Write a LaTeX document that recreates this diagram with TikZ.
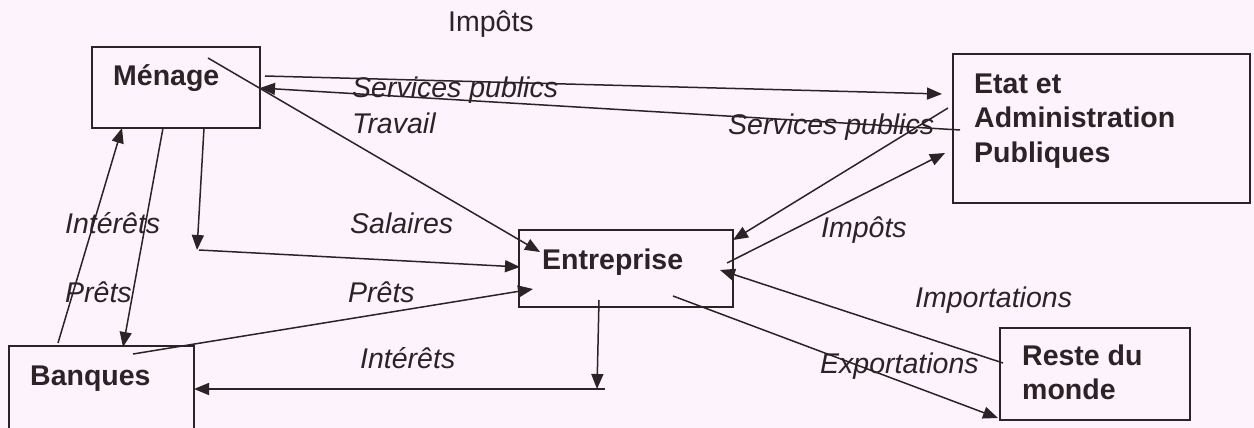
\documentclass[tikz,border=0pt]{standalone}
\usepackage{fontspec}
\setmainfont{Liberation Sans}
\usetikzlibrary{arrows.meta}
\definecolor{bg}{RGB}{253,243,252}
\definecolor{ink}{RGB}{45,34,38}
\begin{document}
\begin{tikzpicture}[x=1pt,y=-1pt,
  box/.style={draw=ink,line width=1.8pt,rectangle,inner sep=0pt},
  btxt/.style={anchor=base west,inner sep=0pt,text=ink,font=\fontsize{28.5}{34.5}\selectfont\bfseries},
  itxt/.style={anchor=base west,inner sep=0pt,text=ink,font=\fontsize{28.5}{34.5}\selectfont\itshape},
  rtxt/.style={anchor=base west,inner sep=0pt,text=ink,font=\fontsize{28.5}{34.5}\selectfont},
  flow/.style={draw=ink,line width=1.5pt,-{Triangle[length=15pt,width=12pt]}},
  plain/.style={draw=ink,line width=1.5pt}]
\fill[bg] (0,0) rectangle (1254,428);
\useasboundingbox (0,0) rectangle (1254,428);
% boxes
\node[box,minimum width=168pt,minimum height=81pt] (menage) at (176,87.5) {};
\node[box,minimum width=297pt,minimum height=149pt] (etat) at (1101.5,128.5) {};
\node[box,minimum width=214pt,minimum height=77pt] (entreprise) at (626,268.5) {};
\node[box,minimum width=185pt,minimum height=84pt] (banques) at (101.5,388) {};
\node[box,minimum width=190pt,minimum height=92pt] (reste) at (1095,374) {};
% box texts
\node[btxt] (tmenage) at (113,86) {Ménage};
\node[btxt] (tetat1) at (974,93) {Etat et};
\node[btxt] (tetat2) at (974,128) {Administration};
\node[btxt] (tetat3) at (974,162) {Publiques};
\node[btxt] (tentr) at (542,269) {Entreprise};
\node[btxt] (tbanq) at (30,385) {Banques};
\node[btxt] (treste1) at (1022,365) {Reste du};
\node[btxt] (treste2) at (1022,399) {monde};
% labels
\node[rtxt] (limpots) at (448,32) {Impôts};
\node[itxt] (lsp1) at (352,97) {Services publics};
\node[itxt] (ltrav) at (352,133) {Travail};
\node[itxt] (lsp2) at (728,135) {Services publics};
\node[itxt] (lint1) at (65,233) {Intérêts};
\node[itxt] (lsal) at (350,233) {Salaires};
\node[itxt] (lpr1) at (65,302) {Prêts};
\node[itxt] (lpr2) at (348,302) {Prêts};
\node[itxt] (lint2) at (360,368) {Intérêts};
\node[itxt] (limp2) at (821,237) {Impôts};
\node[itxt] (limport) at (915,307) {Importations};
\node[itxt] (lexport) at (820,373) {Exportations};
% connector end points
\coordinate (m1) at (265,76);   \coordinate (e1) at (942,94);
\coordinate (e2) at (960,130);  \coordinate (m2) at (260,88);
\coordinate (m3) at (208,58);   \coordinate (n1) at (540,252);
\coordinate (e3) at (948,108);  \coordinate (n2) at (733,240);
\coordinate (n3) at (727,263);  \coordinate (e4) at (945,153);
\coordinate (r1) at (1003,363); \coordinate (n4) at (720,270);
\coordinate (n5) at (673,296);  \coordinate (r2) at (998,418);
\coordinate (b1) at (58,343);   \coordinate (m4) at (122,128);
\coordinate (m5) at (163,128);  \coordinate (b2) at (123,347);
\coordinate (m6) at (204,128);  \coordinate (s1) at (197,250);
\coordinate (s2) at (199,250);  \coordinate (n6) at (520,267);
\coordinate (b3) at (133,354);  \coordinate (n7) at (533,289);
\coordinate (n8) at (599,300);  \coordinate (i1) at (597,389);
\coordinate (i2) at (605,389);  \coordinate (b4) at (194,389);
% connectors
\draw[flow] (m1) -- (e1);
\draw[flow] (e2) -- (m2);
\draw[flow] (m3) -- (n1);
\draw[flow] (e3) -- (n2);
\draw[flow] (n3) -- (e4);
\draw[flow] (r1) -- (n4);
\draw[flow] (n5) -- (r2);
\draw[flow] (b1) -- (m4);
\draw[flow] (m5) -- (b2);
\draw[flow] (m6) -- (s1);
\draw[flow] (s2) -- (n6);
\draw[flow] (b3) -- (n7);
\draw[flow] (n8) -- (i1);
\draw[flow] (i2) -- (b4);
\end{tikzpicture}
\end{document}
